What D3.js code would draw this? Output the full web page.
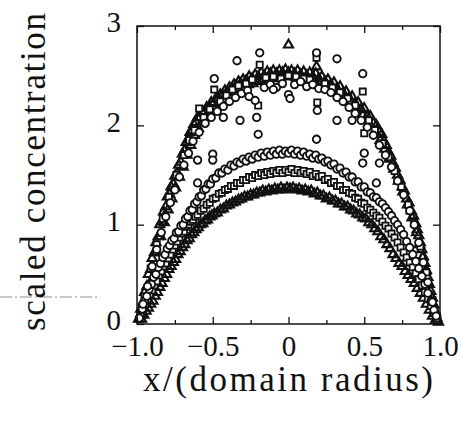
<!DOCTYPE html>
<html><head><meta charset="utf-8">
<script src="https://cdn.jsdelivr.net/npm/d3@7"></script>
<style>body{margin:0;background:#fff}svg{display:block}</style>
</head><body>
<svg id="c" width="463" height="421"></svg>
<script>
// ---- axis / tick data ----
const xMajorTicks = [-1, -0.5, 0, 0.5, 1];
const xTickLabels = ["\u22121.0", "\u22120.5", "0", "0.5", "1.0"];
const xMinorTicks = [-0.75, -0.25, 0.25, 0.75];
const yTicks = [0, 1, 2, 3];
const yTickLabels = ["0", "1", "2", "3"];
const xTitle = "x/(domain radius)";
const yTitle = "scaled concentration";

// ---- upper profile ----
const upperTriangles = [
[-0.99,0.05],[-0.975,0.15],[-0.96,0.22],[-0.95,0.32],[-0.935,0.38],[-0.925,0.5],[-0.91,0.55],[-0.9,0.66],[-0.885,0.72],[-0.875,0.82],[-0.86,0.88],[-0.85,1.0],[-0.835,1.03],[-0.825,1.13],[-0.81,1.18],[-0.8,1.28],[-0.785,1.31],[-0.775,1.38],[-0.76,1.41],[-0.75,1.49],[-0.735,1.52],[-0.725,1.6],[-0.71,1.63],[-0.7,1.71],[-0.685,1.75],[-0.675,1.83],[-0.66,1.86],[-0.65,1.93],[-0.635,1.95],[-0.625,2.01],[-0.61,2.03],[-0.6,2.08],[-0.585,2.08],[-0.57,2.13],[-0.555,2.14],[-0.54,2.18],[-0.525,2.18],[-0.51,2.23],[-0.495,2.22],[-0.48,2.27],[-0.465,2.27],[-0.45,2.31],[-0.435,2.3],[-0.42,2.35],[-0.405,2.33],[-0.39,2.38],[-0.375,2.37],[-0.36,2.41],[-0.345,2.4],[-0.33,2.44],[-0.315,2.42],[-0.3,2.46],[-0.28,2.45],[-0.26,2.49],[-0.24,2.47],[-0.22,2.51],[-0.2,2.49],[-0.18,2.53],[-0.16,2.5],[-0.14,2.54],[-0.12,2.52],[-0.1,2.55],[-0.08,2.52],[-0.06,2.55],[-0.04,2.53],[-0.02,2.56],[0,2.53],
[0.02,2.55],[0.04,2.52],[0.06,2.55],[0.08,2.51],[0.1,2.54],[0.12,2.5],[0.14,2.53],[0.16,2.49],[0.18,2.52],[0.2,2.47],[0.22,2.49],[0.24,2.44],[0.26,2.46],[0.28,2.41],[0.3,2.43],[0.32,2.37],[0.34,2.39],[0.36,2.33],[0.38,2.34],[0.4,2.28],[0.42,2.29],[0.44,2.22],[0.46,2.23],[0.48,2.16],[0.5,2.17],[0.52,2.09],[0.54,2.09],[0.56,2.02],[0.58,2.0],[0.6,1.93],[0.615,1.91],[0.63,1.84],[0.645,1.8],[0.66,1.73],[0.675,1.69],[0.69,1.62],[0.705,1.57],[0.72,1.5],[0.735,1.45],[0.75,1.38],[0.765,1.34],[0.78,1.26],[0.795,1.22],[0.81,1.14],[0.825,1.09],[0.84,1.01],[0.85,0.95],[0.86,0.89],[0.87,0.82],[0.88,0.75],[0.89,0.68],[0.9,0.61],[0.91,0.54],[0.92,0.47],[0.93,0.4],[0.94,0.33],[0.95,0.26],[0.96,0.19],[0.97,0.12],[0.98,0.06],[0.99,0.02],
[-0.97,0.1],[-0.945,0.24],[-0.92,0.4],[-0.895,0.57],[-0.87,0.72],[-0.845,0.88],[-0.82,1.02],[-0.795,1.15],[-0.77,1.26],[-0.745,1.37],[-0.72,1.48],[-0.695,1.58],[-0.67,1.7],[-0.645,1.8],[-0.62,1.9],[-0.595,1.97],[-0.565,2.03],[-0.535,2.09],[-0.505,2.14],[-0.475,2.19],[-0.445,2.23],[-0.415,2.26],[-0.385,2.3],[-0.355,2.33],[-0.325,2.36],[-0.295,2.38],[-0.265,2.41],[-0.235,2.42],[-0.205,2.44],[-0.175,2.45],[-0.145,2.46],[-0.115,2.47],[-0.085,2.48],[-0.055,2.48],[-0.025,2.49],
[0.01,2.49],[0.05,2.48],[0.09,2.48],[0.13,2.46],[0.17,2.45],[0.21,2.43],[0.25,2.4],[0.29,2.37],[0.33,2.33],[0.37,2.28],[0.41,2.23],[0.45,2.16],[0.49,2.1],[0.53,2.02],[0.57,1.94],[0.605,1.85],[0.635,1.76],[0.665,1.66],[0.695,1.56],[0.725,1.44],[0.755,1.33],[0.785,1.2],[0.815,1.07],[0.845,0.92],[0.865,0.8],[0.885,0.67],[0.905,0.53],[0.925,0.4],[0.945,0.27],[0.965,0.14],
[0,2.81],[0.185,2.59]
];
const upperSquares = [
[-0.95,0.28],[-0.91,0.56],[-0.87,0.8],[-0.83,1.06],[-0.79,1.28],[-0.74,1.5],[-0.69,1.7],[-0.655,1.85],[-0.62,1.95],[-0.59,2.17],[-0.56,2.08],[-0.52,2.16],[-0.49,2.36],[-0.45,2.24],[-0.41,2.3],[-0.37,2.36],[-0.33,2.4],[-0.28,2.42],[-0.24,2.46],[-0.19,2.61],[-0.2,2.2],[-0.15,2.48],[-0.1,2.49],[-0.05,2.47],[0,2.5],[0.05,2.49],[0.1,2.47],[0.14,2.46],[0.185,2.68],[0.19,2.23],[0.24,2.42],[0.29,2.38],[0.34,2.33],[0.39,2.27],[0.44,2.2],[0.49,2.34],[0.5,1.92],[0.53,2.05],[0.57,1.95],[0.62,1.82],[0.66,1.68],[0.7,1.54],[0.745,1.38],[0.79,1.2],[0.83,1.02],[0.87,0.78],[0.91,0.52],[0.95,0.24]
];
const upperCircles = [
[-0.96,0.2],[-0.93,0.38],[-0.9,0.58],[-0.87,0.75],[-0.84,0.92],[-0.81,1.08],[-0.78,1.22],[-0.75,1.35],[-0.72,1.48],[-0.69,1.6],[-0.66,1.72],[-0.63,1.84],[-0.59,1.93],[-0.55,2.02],[-0.51,2.08],[-0.47,2.14],[-0.43,2.19],[-0.39,2.24],[-0.35,2.28],[-0.31,2.32],[-0.27,2.35],[-0.16,2.38],[-0.12,2.41],[-0.08,2.38],[-0.04,2.42],[0,2.31],[0.01,2.27],[0.04,2.41],[0.08,2.44],[0.12,2.39],[0.16,2.41],[0.2,2.37],[0.24,2.36],[0.28,2.33],[0.32,2.28],[0.36,2.24],[0.4,2.18],[0.44,2.12],[0.48,2.05],[0.52,1.98],[0.56,1.9],[0.6,1.8],[0.64,1.7],[0.68,1.58],[0.72,1.44],[0.76,1.3],[0.8,1.14],[0.83,1.0],[0.86,0.82],[0.89,0.62],[0.92,0.42],[0.95,0.22],[0.975,0.08],
[-0.19,2.73],[-0.34,2.65],[0.185,2.73],[0.32,2.67],[0.49,2.52],[-0.49,2.47],[0.19,2.15],[-0.32,2.05],[-0.21,2.08],[-0.2,1.91],[0.185,1.86],[0.32,2.05],[0.42,2.05],[-0.5,1.71],[-0.5,1.65],[-0.6,1.65],[0.5,1.72],[0.49,1.62],[0.6,1.62],[-0.6,1.42],[0.58,1.42],[-0.43,2.08],[-0.26,2.29],[-0.22,2.25],[-0.1,2.36]
];

// ---- lower profiles ----
const lowerCircles = [
[-0.985,0.06],[-0.965,0.15],[-0.95,0.23],[-0.935,0.28],[-0.92,0.35],[-0.905,0.4],[-0.89,0.47],[-0.875,0.5],[-0.86,0.57],[-0.845,0.61],[-0.83,0.67],[-0.815,0.7],[-0.8,0.76],[-0.785,0.79],[-0.77,0.84],[-0.755,0.86],[-0.74,0.92],[-0.725,0.93],[-0.71,0.99],[-0.695,1.0],[-0.68,1.06],[-0.665,1.08],[-0.65,1.14],[-0.635,1.15],[-0.62,1.21],[-0.605,1.23],[-0.59,1.28],[-0.575,1.29],[-0.56,1.35],[-0.545,1.36],[-0.53,1.41],[-0.515,1.41],[-0.5,1.46],[-0.48,1.47],[-0.46,1.52],[-0.44,1.52],[-0.42,1.56],[-0.4,1.55],[-0.38,1.6],[-0.36,1.59],[-0.34,1.63],[-0.32,1.62],[-0.3,1.66],[-0.28,1.64],[-0.26,1.68],[-0.24,1.66],[-0.22,1.7],[-0.2,1.68],[-0.18,1.72],[-0.16,1.69],[-0.14,1.73],[-0.12,1.7],[-0.1,1.74],[-0.08,1.71],[-0.06,1.75],[-0.04,1.71],[-0.02,1.74],[0,1.72],[0.02,1.75],[0.04,1.71],[0.06,1.74],[0.08,1.7],[0.1,1.73],[0.12,1.69],[0.14,1.71],[0.16,1.67],[0.18,1.7],[0.2,1.66],[0.22,1.67],[0.24,1.63],[0.26,1.64],[0.28,1.6],[0.3,1.61],[0.32,1.56],[0.34,1.57],[0.36,1.52],[0.38,1.53],[0.4,1.48],[0.42,1.48],[0.44,1.43],[0.46,1.43],[0.48,1.38],[0.5,1.38],[0.52,1.33],[0.54,1.32],[0.56,1.28],[0.58,1.27],[0.6,1.23],[0.62,1.21],[0.64,1.17],[0.66,1.13],[0.68,1.09],[0.7,1.04],[0.72,1.0],[0.74,0.95],[0.76,0.9],[0.78,0.83],[0.8,0.77],[0.82,0.7],[0.84,0.63],[0.86,0.56],[0.88,0.48],[0.9,0.4],[0.92,0.31],[0.94,0.23],[0.96,0.14],[0.98,0.06]
];
const lowerSquares = [
[-0.975,0.08],[-0.96,0.14],[-0.945,0.2],[-0.93,0.25],[-0.915,0.3],[-0.9,0.34],[-0.885,0.39],[-0.87,0.43],[-0.855,0.49],[-0.84,0.53],[-0.825,0.58],[-0.81,0.61],[-0.795,0.66],[-0.78,0.7],[-0.765,0.75],[-0.75,0.79],[-0.735,0.83],[-0.72,0.87],[-0.705,0.91],[-0.69,0.93],[-0.675,0.98],[-0.66,1.0],[-0.645,1.03],[-0.63,1.05],[-0.615,1.08],[-0.6,1.1],[-0.58,1.14],[-0.56,1.16],[-0.54,1.2],[-0.52,1.22],[-0.5,1.26],[-0.48,1.27],[-0.46,1.31],[-0.44,1.32],[-0.42,1.35],[-0.4,1.36],[-0.38,1.39],[-0.36,1.39],[-0.34,1.42],[-0.32,1.42],[-0.3,1.45],[-0.28,1.45],[-0.26,1.48],[-0.24,1.47],[-0.22,1.5],[-0.2,1.49],[-0.18,1.52],[-0.16,1.5],[-0.14,1.53],[-0.12,1.51],[-0.1,1.54],[-0.08,1.52],[-0.06,1.55],[-0.04,1.52],[-0.02,1.55],[0,1.53],[0.02,1.56],[0.04,1.52],[0.06,1.55],[0.08,1.52],[0.1,1.54],[0.12,1.51],[0.14,1.53],[0.16,1.49],[0.18,1.51],[0.2,1.48],[0.22,1.49],[0.24,1.45],[0.26,1.46],[0.28,1.42],[0.3,1.43],[0.32,1.39],[0.34,1.39],[0.36,1.35],[0.38,1.35],[0.4,1.32],[0.42,1.31],[0.44,1.27],[0.46,1.26],[0.48,1.22],[0.5,1.21],[0.52,1.17],[0.54,1.15],[0.56,1.12],[0.58,1.09],[0.6,1.07],[0.62,1.03],[0.64,0.99],[0.66,0.96],[0.68,0.91],[0.7,0.87],[0.72,0.82],[0.74,0.77],[0.76,0.72],[0.78,0.67],[0.8,0.62],[0.82,0.57],[0.84,0.51],[0.86,0.45],[0.88,0.39],[0.9,0.32],[0.92,0.25],[0.94,0.18],[0.96,0.11],[0.98,0.04]
];
const lowerTriangles = [
[-0.97,0.05],[-0.955,0.09],[-0.94,0.13],[-0.925,0.16],[-0.91,0.2],[-0.895,0.23],[-0.88,0.28],[-0.865,0.32],[-0.85,0.37],[-0.835,0.41],[-0.82,0.46],[-0.805,0.5],[-0.79,0.55],[-0.775,0.58],[-0.76,0.62],[-0.745,0.65],[-0.73,0.7],[-0.715,0.73],[-0.7,0.77],[-0.685,0.8],[-0.67,0.84],[-0.655,0.86],[-0.64,0.9],[-0.625,0.92],[-0.61,0.95],[-0.595,0.97],[-0.58,1.0],[-0.565,1.01],[-0.55,1.04],[-0.535,1.05],[-0.52,1.08],[-0.505,1.09],[-0.49,1.11],[-0.47,1.12],[-0.45,1.15],[-0.43,1.16],[-0.41,1.19],[-0.39,1.2],[-0.37,1.22],[-0.35,1.23],[-0.33,1.25],[-0.31,1.26],[-0.29,1.28],[-0.27,1.28],[-0.25,1.3],[-0.23,1.3],[-0.21,1.32],[-0.19,1.32],[-0.17,1.34],[-0.15,1.33],[-0.13,1.35],[-0.11,1.34],[-0.09,1.36],[-0.07,1.35],[-0.05,1.37],[-0.03,1.35],[-0.01,1.37],[0.01,1.36],[0.03,1.37],[0.05,1.35],[0.07,1.36],[0.09,1.34],[0.11,1.35],[0.13,1.33],[0.15,1.34],[0.17,1.31],[0.19,1.32],[0.21,1.29],[0.23,1.29],[0.25,1.26],[0.27,1.27],[0.29,1.24],[0.31,1.24],[0.33,1.21],[0.35,1.21],[0.37,1.18],[0.39,1.18],[0.41,1.15],[0.43,1.14],[0.45,1.11],[0.47,1.1],[0.49,1.07],[0.51,1.06],[0.53,1.02],[0.55,1.0],[0.57,0.96],[0.59,0.93],[0.61,0.88],[0.63,0.85],[0.65,0.8],[0.67,0.76],[0.69,0.7],[0.71,0.66],[0.73,0.61],[0.75,0.58],[0.77,0.53],[0.79,0.49],[0.81,0.45],[0.83,0.41],[0.85,0.36],[0.87,0.31],[0.89,0.26],[0.91,0.2],[0.93,0.14],[0.95,0.08],[0.97,0.04]
];

// ---- drawing ----
const svg = d3.select("#c");
const x = d3.scaleLinear().domain([-1, 1]).range([137, 440]);
const y = d3.scaleLinear().domain([0, 3]).range([324, 26]);
const ink = "#111";
const serif = "'Liberation Serif','DejaVu Serif',serif";

// scan artefact dash-dot line at left
svg.append("line").attr("x1", 0).attr("x2", 98).attr("y1", 297).attr("y2", 297)
  .attr("stroke", "#777").attr("stroke-width", 0.8).attr("stroke-dasharray", "12,3,2,3");

const plot = svg.append("g");

function drawSymbols(data, type, size, fill, sw) {
  const sym = d3.symbol().type(type).size(size);
  plot.append("g").selectAll("path").data(data).join("path")
    .attr("d", sym)
    .attr("transform", d => `translate(${x(d[0])},${y(d[1])})`)
    .attr("fill", fill).attr("stroke", ink).attr("stroke-width", sw);
}

drawSymbols(lowerTriangles, d3.symbolTriangle, 36, "none", 2.1);
drawSymbols(upperTriangles, d3.symbolTriangle, 36, "none", 2.1);
drawSymbols(lowerSquares, d3.symbolSquare, 38, "#fff", 1.8);
drawSymbols(upperSquares, d3.symbolSquare, 38, "#fff", 1.8);
drawSymbols(lowerCircles, d3.symbolCircle, 44, "#fff", 1.8);
drawSymbols(upperCircles, d3.symbolCircle, 44, "#fff", 1.8);

// frame
svg.append("rect").attr("x", x(-1)).attr("y", y(3))
  .attr("width", x(1) - x(-1)).attr("height", y(0) - y(3))
  .attr("fill", "none").attr("stroke", ink).attr("stroke-width", 1.5);

// axes with inward ticks
function styleAxis(g) {
  g.select(".domain").remove();
  g.selectAll(".tick line").attr("stroke", ink).attr("stroke-width", 1.3);
}
const fmtX = d => xTickLabels[xMajorTicks.indexOf(d)];
const gb = svg.append("g").attr("transform", `translate(0,${y(0)})`)
  .call(d3.axisBottom(x).tickValues(xMajorTicks).tickSize(-7).tickPadding(11).tickFormat(fmtX));
styleAxis(gb);
gb.selectAll("text").attr("font-family", serif).attr("font-size", 29).attr("fill", ink);
const gbm = svg.append("g").attr("transform", `translate(0,${y(0)})`)
  .call(d3.axisBottom(x).tickValues(xMinorTicks).tickSize(-4).tickFormat(""));
styleAxis(gbm);
const gt = svg.append("g").attr("transform", `translate(0,${y(3)})`)
  .call(d3.axisTop(x).tickValues(xMajorTicks).tickSize(-7).tickFormat(""));
styleAxis(gt);
const gtm = svg.append("g").attr("transform", `translate(0,${y(3)})`)
  .call(d3.axisTop(x).tickValues(xMinorTicks).tickSize(-4).tickFormat(""));
styleAxis(gtm);

const fmtY = d => yTickLabels[yTicks.indexOf(d)];
const gl = svg.append("g").attr("transform", `translate(${x(-1)},0)`)
  .call(d3.axisLeft(y).tickValues(yTicks).tickSize(-7).tickPadding(16).tickFormat(fmtY));
styleAxis(gl);
gl.selectAll("text").attr("font-family", serif).attr("font-size", 29).attr("fill", ink).attr("dy", "0.2em");
const gr = svg.append("g").attr("transform", `translate(${x(1)},0)`)
  .call(d3.axisRight(y).tickValues(yTicks).tickSize(-7).tickFormat(""));
styleAxis(gr);

// titles
svg.append("text").attr("x", 288).attr("y", 391).attr("text-anchor", "middle")
  .attr("font-family", serif).attr("font-size", 35).attr("fill", ink)
  .attr("textLength", 290).attr("lengthAdjust", "spacing").text(xTitle);
svg.append("text").attr("transform", "translate(45,172) rotate(-90)").attr("text-anchor", "middle")
  .attr("font-family", serif).attr("font-size", 35).attr("fill", ink)
  .attr("textLength", 318).attr("lengthAdjust", "spacing").text(yTitle);
</script>
</body></html>
